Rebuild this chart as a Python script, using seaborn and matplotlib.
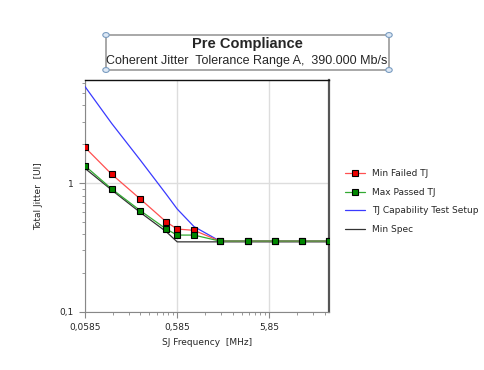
import numpy as np
import pandas as pd
import matplotlib
matplotlib.use("Agg")
import matplotlib.pyplot as plt
import seaborn as sns
from matplotlib.patches import Rectangle, Circle
from matplotlib.ticker import FixedLocator, FixedFormatter, LogLocator, NullFormatter

# data
freq = [0.0585, 0.114, 0.234, 0.445, 0.585, 0.89, 1.7, 3.4, 6.7, 13.2, 26.0]
min_failed = [1.89, 1.17, 0.75, 0.50, 0.44, 0.43, 0.355, 0.355, 0.355, 0.355, 0.355]
max_passed = [1.36, 0.90, 0.61, 0.44, 0.395, 0.395, 0.355, 0.355, 0.355, 0.355, 0.355]
capability = [5.6, 2.9, 1.5, 0.82, 0.63, 0.46, 0.355, 0.355, 0.355, 0.355, 0.355]
spec_freq = [0.0585, 0.117, 0.234, 0.445, 0.585, 26.0]
min_spec = [1.30, 0.87, 0.59, 0.42, 0.35, 0.35]

sns.set_style("white")
plt.rcParams["font.family"] = ["DejaVu Sans"]

fig = plt.figure(figsize=(4.85, 3.70), dpi=100)
ax = fig.add_axes([85/485, 1-312/370, (329-85)/485, (312-80)/370])

sns.lineplot(x=freq, y=capability, ax=ax, color="#3a3aff", lw=0.9, label="TJ Capability Test Setup", zorder=3)
sns.lineplot(x=spec_freq, y=min_spec, ax=ax, color="#333333", lw=0.9, label="Min Spec", zorder=2)
sns.lineplot(x=freq, y=min_failed, ax=ax, color="#ff5050", lw=0.9, marker="s", ms=5,
             mfc="#ee0000", mec="black", mew=0.8, label="Min Failed TJ", zorder=4)
sns.lineplot(x=freq, y=max_passed, ax=ax, color="#33aa33", lw=0.9, marker="s", ms=5,
             mfc="#008800", mec="black", mew=0.8, label="Max Passed TJ", zorder=5)

ax.set_xscale("log")
ax.set_yscale("log")
ax.set_xlim(0.0585, 26.0)
ax.set_ylim(0.1, 6.3)

ax.xaxis.set_major_locator(FixedLocator([0.0585, 0.585, 5.85]))
ax.xaxis.set_major_formatter(FixedFormatter(["0,0585", "0,585", "5,85"]))
ax.xaxis.set_minor_locator(FixedLocator([0.0585 * k * 10**d for d in range(3) for k in range(2, 10)]))
ax.xaxis.set_minor_formatter(NullFormatter())
ax.yaxis.set_major_locator(FixedLocator([0.1, 1]))
ax.yaxis.set_major_formatter(FixedFormatter(["0,1", "1"]))
ax.yaxis.set_minor_locator(LogLocator(subs=np.arange(2, 10)))
ax.yaxis.set_minor_formatter(NullFormatter())

ax.tick_params(which="major", direction="out", length=4, width=0.8, color="#888888", labelsize=6.5, pad=4)
ax.tick_params(which="minor", direction="out", length=2, width=0.6, color="#888888")
ax.tick_params(axis="x", which="both", bottom=True)
ax.tick_params(axis="y", which="both", left=True)
ax.grid(True, which="major", color="#dddddd", lw=1.0)

ax.spines["left"].set_color("#888888")
ax.spines["bottom"].set_color("#888888")
ax.spines["top"].set_color("#111111")
ax.spines["right"].set_color("#555555")
ax.spines["right"].set_linewidth(1.6)
ax.spines["top"].set_linewidth(1.0)

ax.set_xlabel("SJ Frequency  [MHz]", fontsize=6.5, labelpad=4)
ax.set_ylabel("Total Jitter  [UI]", fontsize=6.5, labelpad=12)

h, l = ax.get_legend_handles_labels()
order = [l.index(n) for n in ["Min Failed TJ", "Max Passed TJ", "TJ Capability Test Setup", "Min Spec"]]
ax.legend([h[i] for i in order], [l[i] for i in order], loc="upper left", bbox_to_anchor=(1.05, 0.63),
          frameon=False, fontsize=6.5, handlelength=2.2, labelspacing=1.05, borderaxespad=0)

# title box with handles
bx0, bx1, by0, by1 = 106/485, 389/485, 1-70/370, 1-35/370
fig.patches.append(Rectangle((bx0, by0), bx1-bx0, by1-by0, transform=fig.transFigure,
                             fill=False, ec="#999999", lw=1.2))
for cx, cy in [(bx0, by0), (bx1, by0), (bx0, by1), (bx1, by1)]:
    fig.patches.append(Circle((cx, cy), 3.2/485, transform=fig.transFigure,
                              fc="#dde8f5", ec="#7a9cc0", lw=0.8))
fig.text(247/485, 1-44/370, "Pre Compliance", ha="center", va="center", fontsize=10.5,
         fontweight="bold", family="Liberation Sans")
fig.text(247/485, 1-61/370, "Coherent Jitter  Tolerance Range A,  390.000 Mb/s", ha="center", va="center",
         fontsize=9, family="Liberation Sans")

fig.savefig("out.png", dpi=100)
